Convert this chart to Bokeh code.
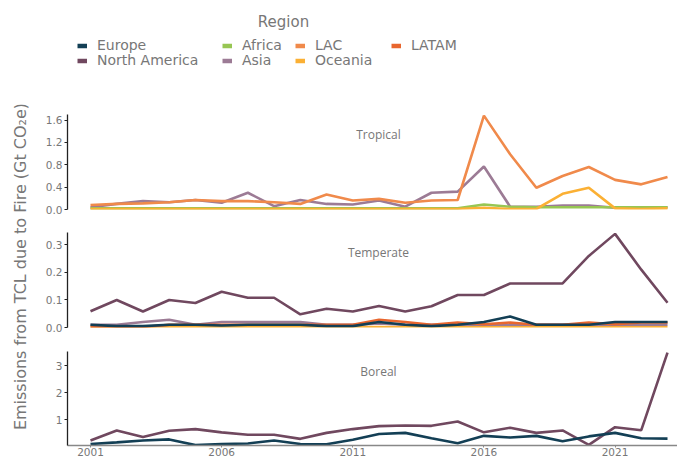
import math
from bokeh.plotting import figure
from bokeh.models import (Legend, LegendItem, Label, FixedTicker, PrintfTickFormatter,
                          Range1d)
from bokeh.layouts import column, row
from bokeh.embed import file_html
from bokeh.resources import INLINE

FONT = "DejaVu Sans"
TFONT = "Open Sans"
GRAY = "#777777"

years = list(range(2001, 2024))
regions = ["Europe", "North America", "Africa", "Asia", "LAC", "Oceania", "LATAM"]
colors = {
    "Europe": "#133f55",
    "North America": "#70485f",
    "Africa": "#97c653",
    "Asia": "#9c7b95",
    "LAC": "#f08a4b",
    "Oceania": "#fbb034",
    "LATAM": "#e8662e",
}

# Tropical
trop_asia = [0.04, 0.10, 0.15, 0.13, 0.17, 0.12, 0.30, 0.06, 0.17, 0.10, 0.09, 0.16, 0.05,
             0.30, 0.32, 0.77, 0.05, 0.05, 0.07, 0.07, 0.03, 0.03, 0.04]
trop_lac = [0.08, 0.10, 0.11, 0.13, 0.17, 0.15, 0.15, 0.13, 0.10, 0.27, 0.16, 0.19, 0.12,
            0.16, 0.17, 1.68, 0.99, 0.39, 0.60, 0.76, 0.53, 0.45, 0.58]
trop_africa = [0.02, 0.02, 0.02, 0.02, 0.02, 0.02, 0.02, 0.02, 0.02, 0.02, 0.02, 0.02, 0.02,
               0.02, 0.02, 0.09, 0.05, 0.04, 0.04, 0.04, 0.04, 0.04, 0.04]
trop_oceania = [0.01, 0.01, 0.01, 0.01, 0.01, 0.01, 0.01, 0.01, 0.01, 0.01, 0.01, 0.01, 0.01,
                0.01, 0.01, 0.03, 0.01, 0.01, 0.28, 0.39, 0.02, 0.01, 0.02]

# Temperate
temp_na = [0.059, 0.10, 0.058, 0.10, 0.089, 0.13, 0.108, 0.108, 0.048, 0.068, 0.058, 0.078,
           0.058, 0.077, 0.118, 0.118, 0.16, 0.16, 0.16, 0.26, 0.34, 0.21, 0.09]
temp_europe = [0.01, 0.005, 0.005, 0.01, 0.01, 0.007, 0.01, 0.01, 0.01, 0.005, 0.005, 0.02,
               0.01, 0.005, 0.01, 0.02, 0.04, 0.01, 0.01, 0.01, 0.02, 0.02, 0.02]
temp_asia = [0.01, 0.01, 0.02, 0.028, 0.01, 0.02, 0.02, 0.02, 0.02, 0.01, 0.01, 0.015, 0.01,
             0.01, 0.01, 0.01, 0.01, 0.01, 0.01, 0.01, 0.01, 0.01, 0.01]
temp_latam = [0.002, 0.002, 0.002, 0.01, 0.01, 0.01, 0.01, 0.01, 0.01, 0.01, 0.01, 0.028, 0.02,
              0.01, 0.018, 0.012, 0.018, 0.01, 0.01, 0.018, 0.012, 0.018, 0.018]
temp_oceania = [0.002] * 23

# Boreal
bor_na = [0.24, 0.61, 0.37, 0.60, 0.66, 0.54, 0.45, 0.45, 0.30, 0.52, 0.66, 0.77, 0.79,
          0.78, 0.94, 0.54, 0.71, 0.52, 0.61, 0.08, 0.73, 0.62, 3.48]
bor_europe = [0.11, 0.17, 0.24, 0.28, 0.07, 0.11, 0.13, 0.24, 0.11, 0.10, 0.27, 0.48, 0.52,
              0.32, 0.14, 0.41, 0.35, 0.41, 0.21, 0.39, 0.52, 0.32, 0.31]

x_ticks = [2001, 2006, 2011, 2016, 2021]
trop_ticks = [0.0, 0.4, 0.8, 1.2, 1.6]
temp_ticks = [0.0, 0.1, 0.2, 0.3]
bor_ticks = [1, 2, 3]

XR = (2000.123, 2023.381)
PW = 645


def style_left(p, ticks, fmt):
    ax = p.yaxis[0]
    ax.ticker = FixedTicker(ticks=ticks)
    ax.formatter = PrintfTickFormatter(format=fmt)
    ax.axis_line_color = "#222222"
    ax.axis_line_width = 1.3
    ax.major_tick_line_color = "#222222"
    ax.major_tick_in = 0
    ax.major_tick_out = 3
    ax.minor_tick_line_color = None
    ax.major_label_text_font = FONT
    ax.major_label_text_font_size = "10.5px"
    ax.major_label_text_color = GRAY
    ax.major_label_standoff = 2


def panel(height, yr, top, bottom, show_x, name, series):
    p = figure(width=PW, height=height, x_range=Range1d(*XR), y_range=Range1d(*yr),
               output_backend="svg", toolbar_location=None,
               min_border_left=35, min_border_right=0, min_border_top=top,
               min_border_bottom=bottom,
               x_axis_location="below" if show_x else None, y_axis_location="left",
               outline_line_color=None, background_fill_color="white")
    p.grid.visible = False
    for reg, vals in series:
        p.line(years, vals, line_color=colors[reg], line_width=2.6)
    lab = Label(x=2011.98, y=yr[1] - (yr[1] - yr[0]) * 0.21, text=name,
                text_align="center", text_baseline="middle", text_font=TFONT,
                text_font_size="12px", text_color=GRAY)
    p.add_layout(lab)
    return p


f1 = panel(118, (0.0, 1.70), 10, 13, False, "Tropical",
           [("Asia", trop_asia), ("LAC", trop_lac), ("Africa", trop_africa),
            ("Oceania", trop_oceania)])
style_left(f1, trop_ticks, "%.1f")

f2 = panel(119, (0.0, 0.345), 10, 14, False, "Temperate",
           [("Oceania", temp_oceania), ("Asia", temp_asia), ("LATAM", temp_latam),
            ("Europe", temp_europe), ("North America", temp_na)])
style_left(f2, temp_ticks, "%.1f")

f3 = panel(117, (0.055, 3.52), 10, 12, True, "Boreal",
           [("North America", bor_na), ("Europe", bor_europe)])
style_left(f3, bor_ticks, "%d")
bx = f3.xaxis[0]
bx.ticker = FixedTicker(ticks=x_ticks)
bx.axis_line_color = "#888888"
bx.axis_line_width = 1.5
bx.major_tick_line_color = "#888888"
bx.major_tick_in = 0
bx.major_tick_out = 2
bx.minor_tick_line_color = None
bx.major_label_text_font = FONT
bx.major_label_text_font_size = "10.5px"
bx.major_label_text_color = GRAY
bx.major_label_standoff = 0

# y-axis title figure
YT_H = 118 + 119 + 117
yt = figure(width=32, height=YT_H, x_range=Range1d(0, 1), y_range=Range1d(0, 1),
            output_backend="svg", toolbar_location=None, min_border=0,
            x_axis_location=None, y_axis_location=None, outline_line_color=None)
yt.grid.visible = False
yt.add_layout(Label(x=20 / 32, y=(458 - 266) / YT_H,
                    text="Emissions from TCL due to Fire (Gt CO\u2082e)",
                    angle=math.pi / 2, text_align="center", text_baseline="middle",
                    text_font=FONT, text_font_size="16px", text_color=GRAY))

# legend figure
LH = 104
lf = figure(width=677, height=LH, x_range=Range1d(0, 1), y_range=Range1d(0, 1),
            output_backend="svg", toolbar_location=None, min_border=0,
            x_axis_location=None, y_axis_location=None, outline_line_color=None)
lf.grid.visible = False
nan = float("nan")
rends = {reg: lf.line(x=[nan], y=[nan], line_color=colors[reg], line_width=4.5)
         for reg in regions}
legend_cols = [["Europe", "North America"], ["Africa", "Asia"], ["LAC", "Oceania"], ["LATAM"]]
legend_x = [77, 222, 295, 391]
row_y = [45, 60]
ITEM_H = 17
for names, lx in zip(legend_cols, legend_x):
    for n, ry in zip(names, row_y):
        leg = Legend(items=[LegendItem(label=n, renderers=[rends[n]])],
                     location=(lx, LH - ry - ITEM_H / 2), orientation="vertical",
                     padding=0, margin=0, spacing=0, glyph_width=10,
                     glyph_height=ITEM_H, label_height=ITEM_H, label_standoff=10,
                     label_text_font=FONT, label_text_font_size="14px",
                     label_text_color=GRAY, background_fill_alpha=0, border_line_alpha=0)
        lf.add_layout(leg, "center")
lf.add_layout(Label(x=283 / 677, y=(LH - 21) / LH, text="Region", text_align="center",
                    text_baseline="middle", text_font=FONT, text_font_size="15px",
                    text_color=GRAY))

layout = column(lf, row(yt, column(f1, f2, f3)))

open("out.html", "w").write(file_html(layout, INLINE))
